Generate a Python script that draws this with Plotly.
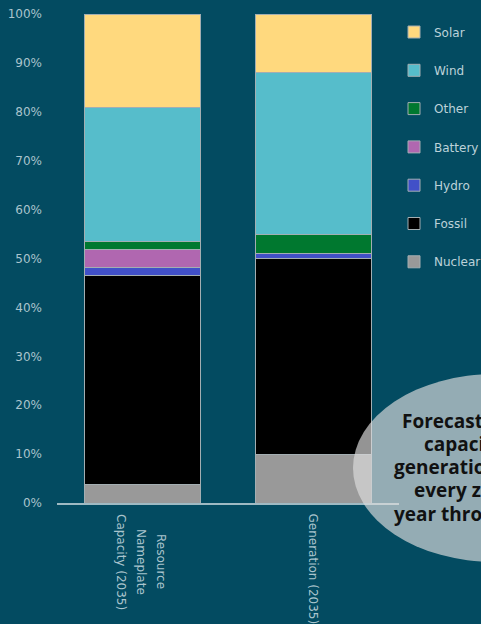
import plotly.graph_objects as go

categories = ["Resource<br>Nameplate<br>Capacity (2035)", "Generation (2035)"]
series_names = ["Nuclear", "Fossil", "Hydro", "Battery", "Other", "Wind", "Solar"]
nuclear = [3.7, 10.0]
fossil = [42.8, 40.0]
hydro = [1.7, 1.1]
battery = [3.7, 0.0]
other = [1.5, 3.9]
wind = [27.5, 33.0]
solar = [19.1, 12.0]
series_values = [nuclear, fossil, hydro, battery, other, wind, solar]
series_colors = ["#999999", "#000000", "#4150c8", "#b067b0", "#00782f", "#56bdcb", "#ffd97e"]
y_tick_values = [0, 10, 20, 30, 40, 50, 60, 70, 80, 90, 100]
y_tick_labels = ["0%", "10%", "20%", "30%", "40%", "50%", "60%", "70%", "80%", "90%", "100%"]
note_lines = ["Forecasted", "capacity and", "generation mix of", "every zone and", "year through 2045"]

BG = "#034b61"
TXT = "#aac4cd"
FONT = "DejaVu Sans"

W, H = 481, 624
L, R, T, B = 57, 82, 14, 121
PW, PH = W - L - R, H - T - B

def px_x(px):
    return (px - L) / PW

def px_y(py):
    return (H - B - py) / PH

fig = go.Figure()
n = len(series_names)
for i, (name, vals, col) in enumerate(zip(series_names, series_values, series_colors)):
    fig.add_trace(go.Bar(
        x=categories, y=vals, name=name, legendgroup=name, legendrank=n - i,
        marker=dict(color=col, line=dict(color="#a3aeb2", width=1)),
    ))

fig.update_layout(
    width=W, height=H,
    margin=dict(l=L, r=R, t=T, b=B, autoexpand=False),
    paper_bgcolor=BG, plot_bgcolor=BG,
    barmode="stack", bargap=0.32,
    font=dict(family=FONT, size=12, color=TXT),
    showlegend=True,
    legend=dict(
        traceorder="grouped", tracegroupgap=19.3,
        x=px_x(394), xanchor="left", y=px_y(17.5), yanchor="top",
        font=dict(family=FONT, size=12, color="#bcd2d9"),
        bgcolor="rgba(0,0,0,0)", itemwidth=30,
    ),
    xaxis=dict(
        showline=True, linecolor="#9fbac3", linewidth=1.5,
        showgrid=False, zeroline=False, ticks="", showticklabels=False,
    ),
    yaxis=dict(
        range=[0, 100], tickmode="array", tickvals=y_tick_values, ticktext=y_tick_labels,
        showgrid=False, zeroline=False, showline=False, ticks="",
        ticklabelstandoff=14,
        tickfont=dict(family=FONT, size=12, color=TXT),
    ),
)

# category labels, rotated; one annotation per line (20 px line pitch), lines centred
# on a common middle point below the axis
label_mid_shift = [-58.5, -66]
for cat, mid in zip(categories, label_mid_shift):
    parts = cat.split("<br>")
    k = len(parts)
    for j, part in enumerate(parts):
        fig.add_annotation(
            xref="x", yref="paper", x=cat, y=0, yshift=mid,
            xshift=((k - 1) / 2 - j) * 20 - 1,
            xanchor="center", yanchor="middle", textangle=90, showarrow=False,
            text=part, align="center",
            font=dict(family=FONT, size=12, color=TXT),
        )

# ellipse overlay (cx 495, cy 468, rx 142, ry 94 in pixels)
fig.add_shape(
    type="circle", xref="paper", yref="paper",
    x0=px_x(353), x1=px_x(637), y0=px_y(562), y1=px_y(374),
    fillcolor="rgba(220,220,220,0.67)", line=dict(width=0), layer="above",
)

note_x = [401, 423, 393, 413, 393]
note_y = [421, 444, 467, 490, 514]
for line, nx, ny in zip(note_lines, note_x, note_y):
    fig.add_annotation(
        xref="paper", yref="paper", x=px_x(nx), y=px_y(ny),
        xanchor="left", yanchor="middle", showarrow=False, borderpad=0,
        text="<b>" + line + "</b>",
        font=dict(family="Open Sans", size=19, color="#111111"),
    )

fig.write_html("out.html", config={"displayModeBar": False},
               post_script="document.body.style.margin='0';")
